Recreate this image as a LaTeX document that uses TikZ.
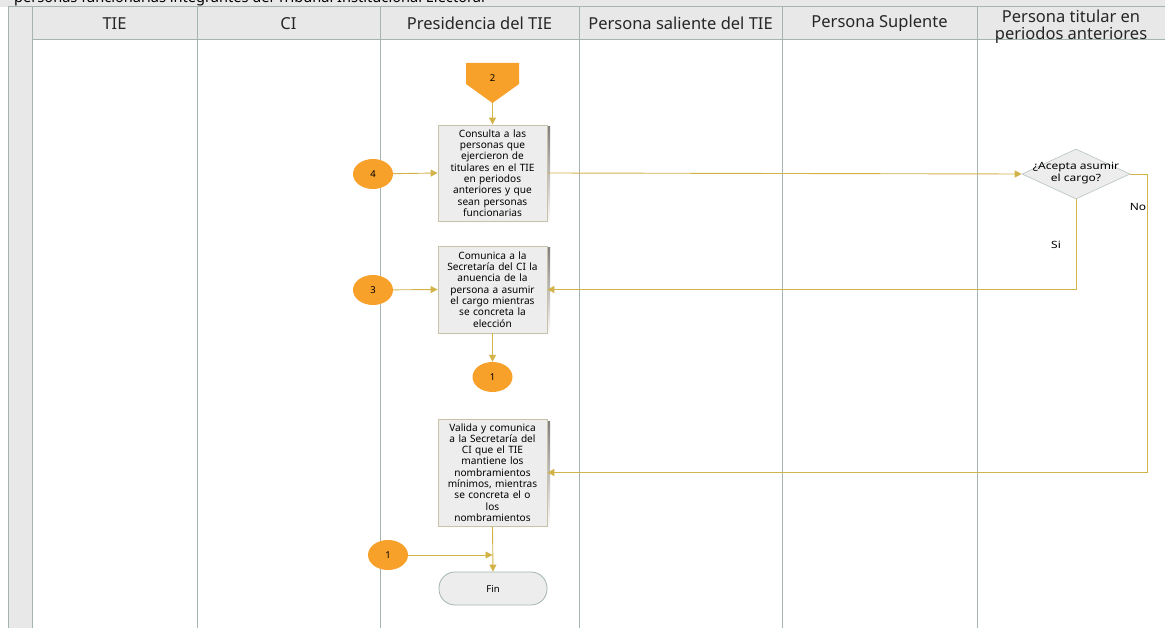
\documentclass[tikz,border=0pt]{standalone}
\usepackage{fontspec}
\setmainfont{Noto Sans}
\newfontfamily\widefont[FakeStretch=1.2]{Noto Sans}
\usetikzlibrary{shapes.geometric,arrows.meta,calc}
\definecolor{orng}{HTML}{F7A02A}
\definecolor{boxfill}{HTML}{EDEDED}
\definecolor{boxline}{HTML}{C8C2A8}
\definecolor{lane}{HTML}{A3B5AE}
\definecolor{headfill}{HTML}{E8E8E8}
\definecolor{flowc}{HTML}{D2B34A}
\definecolor{shade}{HTML}{DEDEDE}
\tikzset{
  proc/.style={draw=boxline, line width=0.8pt, fill=boxfill, minimum width=109pt, text width=107pt, align=center, inner sep=1pt, font=\fontsize{10.1}{11.3}\selectfont},
  conn/.style={ellipse, fill=orng, minimum width=40pt, minimum height=30pt, inner sep=0pt, font=\fontsize{9.5}{10}\selectfont},
  flow/.style={draw=flowc, line width=0.9pt, -{Triangle[length=7pt,width=7pt]}},
  head/.style={font=\fontsize{16.5}{17.5}\selectfont, align=center, text=black!85},
  lbl/.style={font=\widefont\fontsize{10}{11}\selectfont},
  laneline/.style={draw=lane, line width=1pt}
}
\begin{document}
\begin{tikzpicture}[x=1pt,y=-1pt]
\useasboundingbox (0,0) rectangle (1165,628);
\clip (0,0) rectangle (1165,628);
% title bar
\fill[headfill] (0,-2) rectangle (1165,7);
\node[anchor=base west, font=\fontsize{14.6}{15}\selectfont, inner sep=0pt] (title) at (14,2.2) {personas funcionarias integrantes del Tribunal Institucional Electoral};
% left strip and header row
\fill[headfill] (8,7) rectangle (32,628);
\fill[headfill] (32,7) rectangle (1165,40);
\draw[laneline] (8,7) -- (8,628);
\draw[laneline] (8,7) -- (1165,7);
\draw[laneline] (32,40) -- (1165,40);
\foreach \x in {32,197,380,579,782,977} {\draw[laneline] (\x,7) -- (\x,628);}
% headers
\node[head] (h1) at (114.5,23.5) {TIE};
\node[head] (h2) at (288.5,23.5) {CI};
\node[head] (h3) at (479.5,23.5) {Presidencia del TIE};
\node[head] (h4) at (680.5,23.5) {Persona saliente del TIE};
\node[head] (h5) at (879.5,23.5) {Persona Suplente};
\node[head] (h6) at (1071,26.5) {Persona titular en\\periodos anteriores};
% off-page connector 2
\fill[orng] (466,63) -- (519,63) -- (519,84) -- (492.5,103) -- (466,84) -- cycle;
\node[font=\fontsize{9.5}{10}\selectfont] (c2) at (492.5,78) {2};
\coordinate (c2b) at (492.5,103);
% shadows
\fill[shade] (440,127) rectangle (550,224);
\fill[shade] (440,248) rectangle (550,336);
\fill[shade] (440,421) rectangle (550,529);
% processes
\node[proc, minimum height=96pt] (b1) at (492.5,173) {Consulta a las\\personas que\\ejercieron de\\titulares en el TIE\\en periodos\\anteriores y que\\sean personas\\funcionarias};
\node[proc, minimum height=87pt] (b2) at (492.5,289.5) {Comunica a la\\Secretaría del CI la\\anuencia de la\\persona a asumir\\el cargo mientras\\se concreta la\\elección};
\node[proc, minimum height=107pt] (b3) at (492.5,472.5) {Valida y comunica\\a la Secretaría del\\CI que el TIE\\mantiene los\\nombramientos\\mínimos, mientras\\se concreta el o\\los\\nombramientos};
% connectors
\node[conn] (c4) at (373,174) {4};
\node[conn] (c3) at (373,290) {3};
\node[conn] (c1a) at (492.5,377) {1};
\node[conn] (c1b) at (388,555) {1};
% decision
\node[diamond, draw=lane!80, fill=boxfill, line width=0.6pt, minimum width=108pt, minimum height=50pt, aspect=2.16, inner sep=0pt] (dec) at (1076,174) {};
\node[align=center, inner sep=0pt, font=\widefont\fontsize{10}{12}\selectfont] (dectext) at (1076,173) {¿Acepta asumir\\el cargo?};
% end
\node[draw=lane, line width=0.8pt, fill=boxfill, rounded corners=16pt, minimum width=108pt, minimum height=33pt, font=\fontsize{9.5}{10}\selectfont] (fin) at (493,588.5) {Fin};
% flows
\draw[flow] (c2b) -- (b1.north);
\draw[flow] (c4) -- (b1.west);
\draw[flow] (b1.east) -- (dec.west);
\draw[flow] (dec.south) |- (b2.east);
\draw[flow] (dec.east) -- ++(17,0) |- (b3.east);
\draw[flow] (c3) -- (b2.west);
\draw[flow] (b2.south) -- (c1a.north);
\draw[flow] (b3.south) -- (fin.north);
\draw[flow] (c1b) -- (c1b -| b3.south);
\node[lbl] (si) at (1056,245) {Si};
\node[lbl] (no) at (1138,207) {No};
\end{tikzpicture}
\end{document}
